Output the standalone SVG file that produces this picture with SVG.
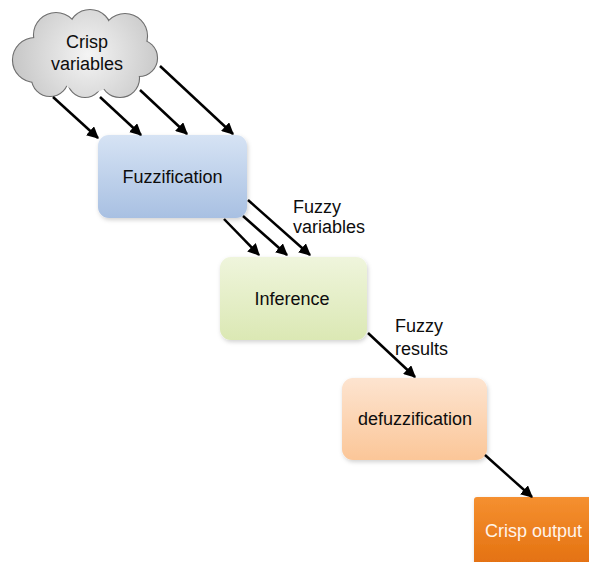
<svg xmlns="http://www.w3.org/2000/svg" width="589" height="562" viewBox="0 0 589 562">
  <defs>
    <style>
      .lbl { font-family: "Liberation Sans", Arial, sans-serif; font-size: 18px; fill: #0d0d0d; }
      .mid { text-anchor: middle; }
      .arrow { stroke: #000; stroke-width: 2.5; fill: none; marker-end: url(#head); }
      .box { stroke: none; filter: url(#shadow); }
    </style>
    <marker id="head" viewBox="0 0 10 10" refX="9" refY="5" markerWidth="4.8" markerHeight="4.8" orient="auto" markerUnits="strokeWidth">
      <path d="M0,0 L10,5 L0,10 Z" fill="#000"/>
    </marker>
    <filter id="shadow" x="-10%" y="-10%" width="125%" height="130%">
      <feDropShadow dx="1" dy="2" stdDeviation="2" flood-color="#000" flood-opacity="0.18"/>
    </filter>
    <radialGradient id="cloudFill" gradientUnits="userSpaceOnUse" cx="88" cy="55" r="80">
      <stop offset="0" stop-color="#f4f4f4"/>
      <stop offset="1" stop-color="#c4c4c4"/>
    </radialGradient>
    <linearGradient id="gBlue" x1="0" y1="0" x2="0" y2="1">
      <stop offset="0" stop-color="#d6e3f4"/>
      <stop offset="1" stop-color="#a8c0e2"/>
    </linearGradient>
    <linearGradient id="gGreen" x1="0" y1="0" x2="0" y2="1">
      <stop offset="0" stop-color="#eff5dc"/>
      <stop offset="1" stop-color="#dbe8b4"/>
    </linearGradient>
    <linearGradient id="gPeach" x1="0" y1="0" x2="0" y2="1">
      <stop offset="0" stop-color="#fde4d0"/>
      <stop offset="1" stop-color="#fbc698"/>
    </linearGradient>
    <linearGradient id="gOrange" x1="0" y1="0" x2="0" y2="1">
      <stop offset="0" stop-color="#f59030"/>
      <stop offset="1" stop-color="#e3700f"/>
    </linearGradient>
  </defs>

  <rect width="589" height="562" fill="#ffffff"/>

  <!-- cloud: outlined circles, then the same circles filled on top to leave only the outer outline -->
  <g id="crisp-variables">
    <g stroke="#6e6e6e" stroke-width="2.2" fill="url(#cloudFill)">
      <circle cx="35" cy="60" r="22"/>
      <circle cx="56" cy="35" r="22"/>
      <circle cx="90" cy="31" r="21"/>
      <circle cx="125" cy="36" r="22"/>
      <circle cx="139" cy="58" r="18"/>
      <circle cx="120" cy="78" r="19"/>
      <circle cx="85" cy="80" r="17"/>
      <circle cx="50" cy="78" r="18"/>
    </g>
    <g fill="url(#cloudFill)">
      <circle cx="35" cy="60" r="22"/>
      <circle cx="56" cy="35" r="22"/>
      <circle cx="90" cy="31" r="21"/>
      <circle cx="125" cy="36" r="22"/>
      <circle cx="139" cy="58" r="18"/>
      <circle cx="120" cy="78" r="19"/>
      <circle cx="85" cy="80" r="17"/>
      <circle cx="50" cy="78" r="18"/>
      <circle cx="88" cy="57" r="36"/>
    </g>
    <text class="lbl mid" x="87" y="48">Crisp</text>
    <text class="lbl mid" x="87" y="70">variables</text>
  </g>

  <g id="fuzzification">
    <rect class="box" x="98" y="135" width="149" height="83" rx="11" fill="url(#gBlue)"/>
    <text class="lbl mid" x="172.5" y="183">Fuzzification</text>
  </g>

  <g id="inference">
    <rect class="box" x="220" y="257" width="147" height="83" rx="11" fill="url(#gGreen)"/>
    <text class="lbl mid" x="292" y="305">Inference</text>
  </g>

  <g id="defuzzification">
    <rect class="box" x="342" y="378" width="145" height="82" rx="11" fill="url(#gPeach)"/>
    <text class="lbl mid" x="415" y="425">defuzzification</text>
  </g>

  <g id="crisp-output">
    <rect class="box" x="474" y="497" width="120" height="70" rx="3" fill="url(#gOrange)"/>
    <text class="lbl" x="485" y="537" style="fill:#fff4ea">Crisp output</text>
  </g>

  <g id="edge-labels">
    <text class="lbl" x="293" y="213">Fuzzy</text>
    <text class="lbl" x="293" y="233">variables</text>
    <text class="lbl" x="395" y="332">Fuzzy</text>
    <text class="lbl" x="395" y="355">results</text>
  </g>

  <g id="connectors">
    <line class="arrow" x1="53" y1="97" x2="98" y2="138"/>
    <line class="arrow" x1="100" y1="97" x2="141" y2="135"/>
    <line class="arrow" x1="140" y1="90" x2="187" y2="134"/>
    <line class="arrow" x1="160" y1="66" x2="233" y2="134"/>
    <line class="arrow" x1="224" y1="219" x2="259" y2="255"/>
    <line class="arrow" x1="243" y1="216" x2="287" y2="255"/>
    <line class="arrow" x1="248" y1="200" x2="310" y2="255"/>
    <line class="arrow" x1="368" y1="333" x2="415" y2="377"/>
    <line class="arrow" x1="485" y1="455" x2="532" y2="497"/>
  </g>
</svg>
